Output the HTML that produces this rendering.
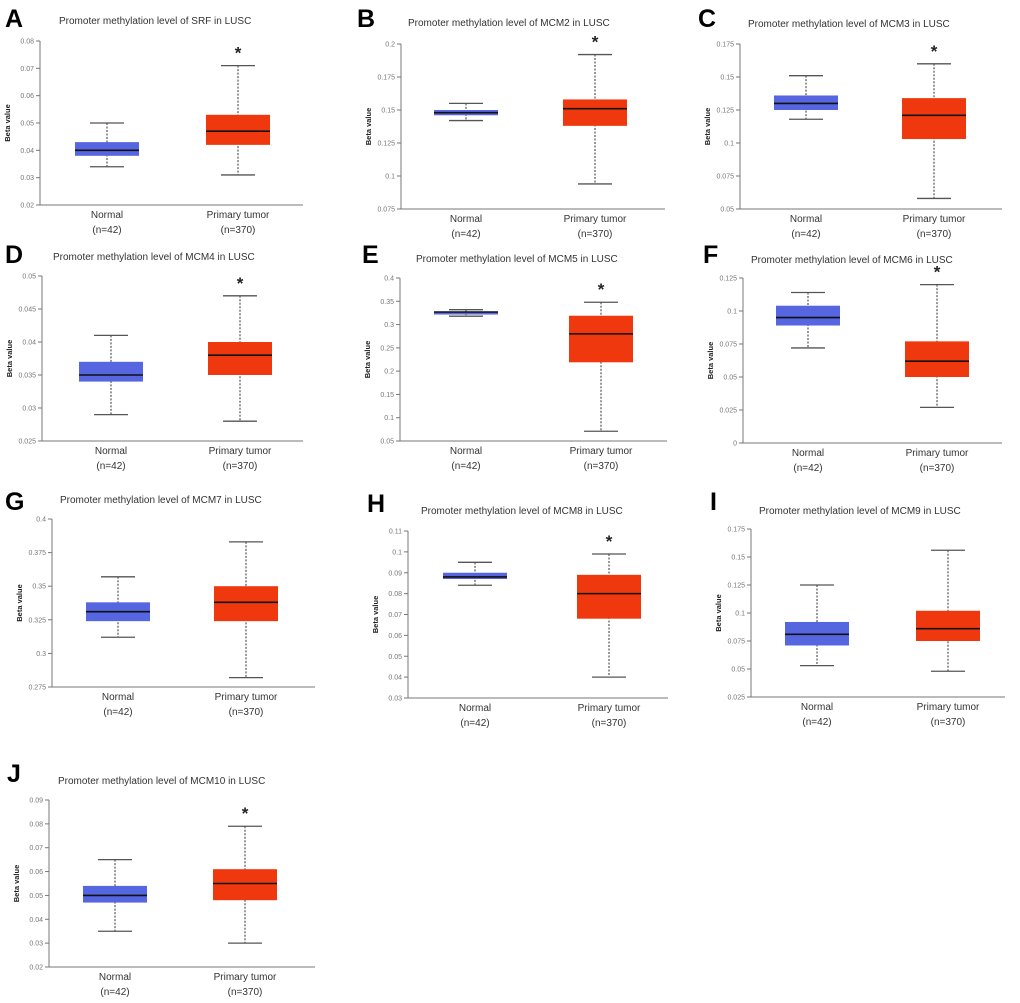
<!DOCTYPE html>
<html><head><meta charset="utf-8">
<style>
html,body{margin:0;padding:0;background:#fff;}
svg{display:block;font-family:"Liberation Sans",sans-serif;}
</style></head>
<body>
<svg id="fig" width="1020" height="1003" viewBox="0 0 1020 1003" xmlns="http://www.w3.org/2000/svg"></svg>
<script>
// ---- data ----
const panelLetters = ["A","B","C","D","E","F","G","H","I","J"];
const genes = ["SRF","MCM2","MCM3","MCM4","MCM5","MCM6","MCM7","MCM8","MCM9","MCM10"];
const categories = ["Normal","Primary tumor"];
const sampleSizes = ["(n=42)","(n=370)"];
// [max, q3, median, q1, min]
const normalA=[0.050,0.043,0.040,0.038,0.034];
const tumorA=[0.071,0.053,0.047,0.042,0.031];
const normalB=[0.155,0.150,0.148,0.146,0.142];
const tumorB=[0.192,0.158,0.151,0.138,0.094];
const normalC=[0.151,0.136,0.130,0.125,0.118];
const tumorC=[0.160,0.134,0.121,0.103,0.058];
const normalD=[0.041,0.037,0.035,0.034,0.029];
const tumorD=[0.047,0.040,0.038,0.035,0.028];
const normalE=[0.332,0.328,0.327,0.325,0.318];
const tumorE=[0.348,0.319,0.280,0.219,0.071];
const normalF=[0.114,0.104,0.095,0.089,0.072];
const tumorF=[0.120,0.077,0.062,0.050,0.027];
const normalG=[0.357,0.338,0.331,0.324,0.312];
const tumorG=[0.383,0.350,0.338,0.324,0.282];
const normalH=[0.095,0.090,0.088,0.087,0.084];
const tumorH=[0.099,0.089,0.080,0.068,0.040];
const normalI=[0.125,0.092,0.081,0.071,0.053];
const tumorI=[0.156,0.102,0.086,0.075,0.048];
const normalJ=[0.065,0.054,0.050,0.047,0.035];
const tumorJ=[0.079,0.061,0.055,0.048,0.030];
const significant=[true,true,true,true,true,true,false,true,false,true];
const ticksA=["0.02","0.03","0.04","0.05","0.06","0.07","0.08"];
const ticksB=["0.075","0.1","0.125","0.15","0.175","0.2"];
const ticksC=["0.05","0.075","0.1","0.125","0.15","0.175"];
const ticksD=["0.025","0.03","0.035","0.04","0.045","0.05"];
const ticksE=["0.05","0.1","0.15","0.2","0.25","0.3","0.35","0.4"];
const ticksF=["0","0.025","0.05","0.075","0.1","0.125"];
const ticksG=["0.275","0.3","0.325","0.35","0.375","0.4"];
const ticksH=["0.03","0.04","0.05","0.06","0.07","0.08","0.09","0.1","0.11"];
const ticksI=["0.025","0.05","0.075","0.1","0.125","0.15","0.175"];
const ticksJ=["0.02","0.03","0.04","0.05","0.06","0.07","0.08","0.09"];
const normals=[normalA,normalB,normalC,normalD,normalE,normalF,normalG,normalH,normalI,normalJ];
const tumors=[tumorA,tumorB,tumorC,tumorD,tumorE,tumorF,tumorG,tumorH,tumorI,tumorJ];
const ticks=[ticksA,ticksB,ticksC,ticksD,ticksE,ticksF,ticksG,ticksH,ticksI,ticksJ];

// ---- layout (pixels) ----
const layout=[
 {lx:5,ly:27,tx:59,ty:24,ax:40,top:41,bot:205,right:303,c:[107,238]},
 {lx:357,ly:27,tx:408,ty:26,ax:401,top:44,bot:209,right:665,c:[466,595]},
 {lx:698,ly:27,tx:748,ty:27,ax:740,top:44,bot:209,right:1002,c:[806,934]},
 {lx:5,ly:263,tx:53,ty:260,ax:42,top:276,bot:441,right:303,c:[111,240]},
 {lx:362,ly:263,tx:416,ty:262,ax:400,top:278,bot:441,right:667,c:[466,601]},
 {lx:703,ly:263,tx:751,ty:263,ax:743,top:278,bot:443,right:1002,c:[808,937]},
 {lx:5,ly:510,tx:60,ty:503,ax:52,top:519,bot:687,right:315,c:[118,246]},
 {lx:367,ly:512,tx:421,ty:514,ax:408,top:531,bot:698,right:668,c:[475,609]},
 {lx:710,ly:510,tx:759,ty:514,ax:751,top:529,bot:697,right:1005,c:[817,948]},
 {lx:7,ly:782,tx:58,ty:784,ax:49,top:800,bot:967,right:315,c:[115,245]}
];
const NS="http://www.w3.org/2000/svg";
const svg=document.getElementById('fig');
function mk(tag,attrs,parent,text){const e=document.createElementNS(NS,tag);for(const k in attrs)e.setAttribute(k,attrs[k]);if(text!==undefined)e.textContent=text;parent.appendChild(e);return e;}
const colors=["#5566e0","#f0380f"];
for(let p=0;p<10;p++){
  const L=layout[p];
  const tk=ticks[p];
  const ymin=parseFloat(tk[0]), ymax=parseFloat(tk[tk.length-1]);
  const y=v=>L.bot-(v-ymin)/(ymax-ymin)*(L.bot-L.top);
  const g=mk('g',{},svg);
  
  
  const let_=mk('text',{x:L.lx,y:L.ly,'font-size':25,'font-weight':'bold',fill:'#000'},g,panelLetters[p]);
  
  
  const ti=mk('text',{x:L.tx,y:L.ty,'font-size':10,fill:'#333'},g,'Promoter methylation level of '+genes[p]+' in LUSC');
  
  
  const ya=mk('line',{x1:L.ax,y1:L.top,x2:L.ax,y2:L.bot,stroke:'#777','stroke-width':1},g);
  
  
  const xa=mk('line',{x1:L.ax-4,y1:L.bot,x2:L.right,y2:L.bot,stroke:'#777','stroke-width':1},g);
  
  
  tk.forEach(t=>{
    const yy=y(parseFloat(t));
    mk('line',{x1:L.ax-4,y1:yy,x2:L.ax,y2:yy,stroke:'#777'},g);
    const tl=mk('text',{x:L.ax-6,y:yy+2.5,'font-size':7,fill:'#777','text-anchor':'end'},g,t);
    
    
  });
  const yt=mk('text',{x:0,y:0,'font-size':7.5,'font-weight':'bold',fill:'#222','text-anchor':'middle',transform:`translate(${L.ax-30},${(L.top+L.bot)/2}) rotate(-90)`},g,'Beta value');
  
  
  const sets=[normals[p],tumors[p]];
  for(let k=0;k<2;k++){
    const s=sets[k], cx=L.c[k];
    const bg=mk('g',{},g);
    
    
    mk('line',{x1:cx,y1:y(s[0]),x2:cx,y2:y(s[4]),stroke:'#333','stroke-width':1,'stroke-dasharray':'2,1.5'},bg);
    mk('line',{x1:cx-17,y1:y(s[0]),x2:cx+17,y2:y(s[0]),stroke:'#555','stroke-width':1.3},bg);
    mk('line',{x1:cx-17,y1:y(s[4]),x2:cx+17,y2:y(s[4]),stroke:'#555','stroke-width':1.3},bg);
    const h=Math.max(y(s[3])-y(s[1]),3);
    mk('rect',{x:cx-32,y:y(s[1]),width:64,height:h,fill:colors[k]},bg);
    mk('line',{x1:cx-32,y1:y(s[2]),x2:cx+32,y2:y(s[2]),stroke:'#111','stroke-width':1.6},bg);
    const cl=mk('text',{x:cx,y:L.bot+13,'font-size':10,fill:'#333','text-anchor':'middle'},g,categories[k]);
    
    
    const nl=mk('text',{x:cx,y:L.bot+28,'font-size':10,fill:'#333','text-anchor':'middle'},g,sampleSizes[k]);
    
    
  }
  if(significant[p]){
    const st=mk('text',{x:L.c[1],y:y(tumors[p][0])-7,'font-size':17,'font-weight':'bold',fill:'#222','text-anchor':'middle'},g,'*');
    
    
  }
}
</script>
</body></html>
